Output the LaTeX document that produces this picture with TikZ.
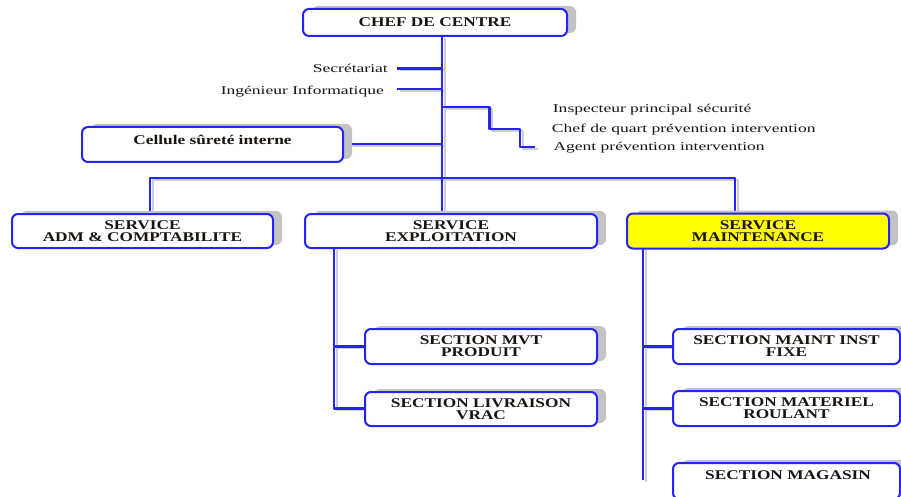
\documentclass[tikz,border=0pt]{standalone}
\usepackage{fontspec}
\setmainfont{Liberation Serif}
\newfontfamily\boxfam{Liberation Serif}[FakeStretch=1.3]
\newfontfamily\lblfam{Liberation Serif}[FakeStretch=1.46]
\usetikzlibrary{shadows}
\definecolor{wireblue}{RGB}{35,35,250}
\definecolor{shadowgray}{RGB}{195,195,195}
\definecolor{wiregray}{RGB}{205,205,205}
\definecolor{inkdark}{RGB}{25,20,15}
\definecolor{hiyellow}{RGB}{255,255,0}
\tikzset{
  boxtext/.style={inner sep=0pt, align=center, text=inkdark,
    font=\boxfam\bfseries\fontsize{13.3}{12}\selectfont},
  orgbox/.style={boxtext, draw=wireblue, line width=2pt, rounded corners=6pt,
    fill=white,
    drop shadow={shadow xshift=9pt, shadow yshift=3pt, fill=shadowgray, opacity=1}},
  lbl/.style={inner sep=0pt, text=inkdark, font=\lblfam\fontsize{12}{14}\selectfont},
  wire/.style={draw=wireblue, line width=2.4pt, line join=round},
  wireshade/.style={draw=wiregray, line width=2pt, line join=round}
}
% all connector paths, drawn once as shade and once as line
\newcommand{\orgwires}[1]{%
  \draw[#1] (tr) -- (442,214);
  \draw[#1] (396.7,68.5) -- (tr |- 0,68.5);
  \draw[#1] (396.7,88.8) -- (tr |- 0,88.8);
  \draw[#1] (s1) -- (489.3,107.3) -- (489.3,129.3) -- (520,129.3) -- (520,147.3) -- (inspend);
  \draw[#1] (343,144.3) -- (tr |- 0,144.3);
  \draw[#1] (150,214) -- (bl) -- (br) -- (735,214);
  \draw[#1] (ex |- 0,248) -- (334,408.5) -- (365,408.5);
  \draw[#1] (334,346.5) -- (365,346.5);
  \draw[#1] (mx |- 0,248) -- (mend);
  \draw[#1] (643,346.5) -- (673,346.5);
  \draw[#1] (643,408.5) -- (673,408.5);
}
\begin{document}
\begin{tikzpicture}[x=1pt, y=-1pt]
\useasboundingbox (0,0) rectangle (901,497);

% trunk and branch points
\coordinate (tr) at (442,36);
\coordinate (bl) at (150,178);
\coordinate (br) at (735,178);
\coordinate (ex) at (334,0);
\coordinate (mx) at (643,0);
\coordinate (mend) at (643,480);
\coordinate (s1) at (442,107.3);
\coordinate (inspend) at (535,147.3);

% side labels
\node[lbl, anchor=base east] (secr) at (388,72.6) {Secrétariat};
\node[lbl, anchor=base east] (ingen) at (384,94.3) {Ingénieur Informatique};
\node[lbl, anchor=base west] (insp) at (552.7,112.9) {Inspecteur principal sécurité};
\node[lbl, anchor=base west] (quart) at (551.7,132.2) {Chef de quart prévention intervention};
\node[lbl, anchor=base west] (agent) at (553.3,150.6) {Agent prévention intervention};

% connectors with their soft shade
\begin{scope}[transform canvas={xshift=2.8pt, yshift=-1.8pt}]
  \orgwires{wireshade}
\end{scope}
\orgwires{wire}

% boxes
\node[orgbox, minimum width=264pt, minimum height=27pt] (chef) at (435,22.5) {CHEF DE CENTRE};
\node[orgbox, minimum width=261pt, minimum height=35pt] (cellule) at (212.5,144.5) {};
\node[boxtext] (celltext) at (212.5,139.5) {Cellule sûreté interne};
\node[orgbox, minimum width=261pt, minimum height=34pt] (adm) at (142.5,231) {SERVICE\\ADM \& COMPTABILITE};
\node[orgbox, minimum width=292pt, minimum height=34pt] (expl) at (451,231) {SERVICE\\EXPLOITATION};
\node[orgbox, fill=hiyellow, minimum width=262pt, minimum height=35pt] (maint) at (758,231) {SERVICE\\MAINTENANCE};
\node[orgbox, minimum width=232pt, minimum height=35pt] (mvt) at (481,346.5) {SECTION MVT\\PRODUIT};
\node[orgbox, minimum width=232pt, minimum height=34pt] (livr) at (481,409) {SECTION LIVRAISON\\VRAC};
\node[orgbox, minimum width=227pt, minimum height=35pt] (inst) at (786.5,346.5) {SECTION MAINT INST\\FIXE};
\node[orgbox, minimum width=227pt, minimum height=35pt] (roul) at (786.5,408.5) {SECTION MATERIEL\\ROULANT};
\node[orgbox, minimum width=227pt, minimum height=36pt] (mag) at (786.5,481) {};
\node[boxtext] (magtext) at (788,475) {SECTION MAGASIN};
\end{tikzpicture}
\end{document}
